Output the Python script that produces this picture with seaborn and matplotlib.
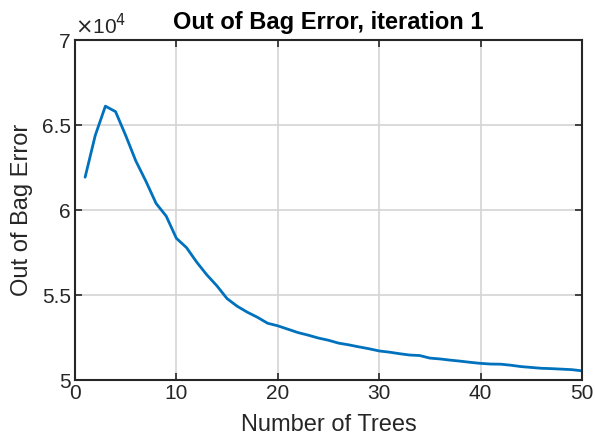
import matplotlib
matplotlib.use("Agg")
import matplotlib.pyplot as plt
import seaborn as sns
import pandas as pd
from matplotlib.ticker import FuncFormatter, MultipleLocator

# Out-of-bag error per number of trees
n_trees = list(range(1, 51))
oob_error = [
    61940, 64400, 66120, 65800, 64400, 62900, 61700, 60400, 59650, 58350,
    57800, 56950, 56200, 55550, 54800, 54350, 54000, 53700, 53350, 53200,
    53000, 52800, 52650, 52480, 52350, 52180, 52080, 51960, 51850, 51720,
    51650, 51560, 51480, 51450, 51300, 51250, 51180, 51120, 51050, 50990,
    50950, 50940, 50880, 50800, 50750, 50700, 50680, 50650, 50620, 50550,
]
x_ticks = [0, 10, 20, 30, 40, 50]

sns.set_style("white")
plt.rcParams["font.family"] = ["Liberation Sans", "DejaVu Sans"]

df = pd.DataFrame({"trees": n_trees, "error": oob_error})

fig = plt.figure(figsize=(5.95, 4.37), dpi=100)
ax = fig.add_axes([0.126, 0.130, 0.852, 0.778])
sns.lineplot(data=df, x="trees", y="error", ax=ax, color="#0072BD", linewidth=2.0)

ax.set_xlim(0, 50)
ax.set_ylim(50000, 70000)
ax.set_xticks(x_ticks)
ax.yaxis.set_major_locator(MultipleLocator(5000))
ax.yaxis.set_major_formatter(FuncFormatter(lambda v, p: f"{v / 1e4:g}"))
ax.grid(True, color="#d4d4d4", linewidth=1.2)
ax.tick_params(direction="in", length=5, width=1.2, labelsize=15, colors="#262626",
               top=True, right=True, bottom=True, left=True, pad=3)
for s in ax.spines.values():
    s.set_color("#262626")
    s.set_linewidth(1.5)

ax.set_xlabel("Number of Trees", fontsize=17, color="#262626", labelpad=8)
ax.set_ylabel("Out of Bag Error", fontsize=17, color="#262626", labelpad=6)
ax.set_title("Out of Bag Error, iteration 1", fontsize=17, fontweight="bold",
             color="black", pad=8)
ax.text(0.0, 1.005, r"$\times$10$^4$", transform=ax.transAxes, fontsize=15,
        color="#262626", ha="left", va="bottom")

fig.savefig("out.png", dpi=100)
